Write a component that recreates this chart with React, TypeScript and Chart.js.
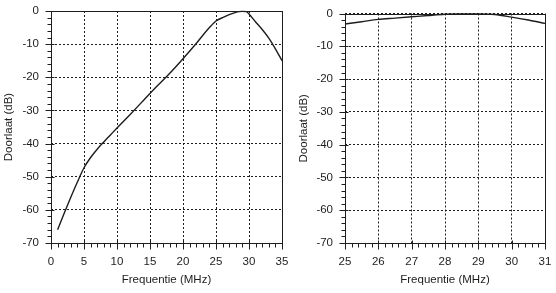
import React, { useEffect, useRef } from "react";
import { Chart, registerables } from "chart.js";

Chart.register(...registerables);

// Wide sweep: 0–35 MHz
const wideFreq = [1, 2, 3, 4, 5, 6, 7, 8, 9, 10, 12, 14, 16, 18, 20, 22, 24, 25, 26, 27, 28, 28.5, 29, 29.6, 30, 31, 32, 33, 34, 35];
const wideGain = [-66, -61, -56.2, -51.6, -47.3, -44.2, -41.7, -39.5, -37.4, -35.3, -31.2, -27.0, -22.8, -18.8, -14.4, -9.8, -5.0, -3.0, -2.0, -1.1, -0.4, -0.2, -0.1, -0.2, -0.9, -3.3, -5.6, -8.2, -11.4, -15.0];

// Narrow sweep: 25–31 MHz
const narrowFreq = [25, 25.5, 26, 26.5, 27, 27.5, 28, 28.5, 29, 29.5, 30, 30.5, 31];
const narrowGain = [-3.2, -2.5, -1.8, -1.4, -1.0, -0.6, -0.25, -0.1, -0.1, -0.3, -1.1, -2.0, -3.0];

// Axis tick labels
const gainTicks = [0, -10, -20, -30, -40, -50, -60, -70];
const wideFreqTicks = [0, 5, 10, 15, 20, 25, 30, 35];
const narrowFreqTicks = [25, 26, 27, 28, 29, 30, 31];

const FONT = "'Liberation Sans', Arial, sans-serif";
const INK = "#1d1d1d";

const isMultiple = (v: number, step: number) =>
  Math.abs(v / step - Math.round(v / step)) < 1e-6;

// Solid frame round the plot plus major/minor tick marks on both axes
const frameTicks = {
  id: "frameTicks",
  afterDraw(chart: any, _args: any, opts: any) {
    const { ctx, chartArea: a, scales } = chart;
    const xs = scales.x;
    const ys = scales.y;
    const L = Math.round(a.left) + 0.5;
    const R = Math.round(a.right) + 0.5;
    const T = Math.round(a.top) + 0.5;
    const B = Math.round(a.bottom) + 0.5;
    ctx.save();
    ctx.setLineDash([]);
    ctx.strokeStyle = INK;
    ctx.lineWidth = 1;
    ctx.strokeRect(L, T, R - L, B - T);
    ctx.beginPath();
    // y ticks
    const yn = Math.round((ys.max - ys.min) / opts.yMinor);
    for (let i = 0; i <= yn; i++) {
      const v = ys.min + i * opts.yMinor;
      const py = Math.round(ys.getPixelForValue(v)) + 0.5;
      const major = isMultiple(v, opts.yMajor);
      ctx.moveTo(L - (major ? 6 : 4), py);
      ctx.lineTo(L + (major ? 3 : 0), py);
    }
    // x ticks
    const xn = Math.round((xs.max - xs.min) / opts.xMinor);
    for (let i = 0; i <= xn; i++) {
      const v = xs.min + i * opts.xMinor;
      const px = Math.round(xs.getPixelForValue(v)) + 0.5;
      const major = isMultiple(v - xs.min, opts.xMajor);
      ctx.moveTo(px, B + (major ? 6 : 4));
      ctx.lineTo(px, B - (major ? 3 : 0));
    }
    ctx.stroke();
    ctx.restore();
  },
};

// Fixed axis sizes so the plot area sits where the layout padding puts it
const fixSize = (size: number, horizontal: boolean) => (s: any) => {
  if (horizontal) s.height = size;
  else s.width = size;
  s.paddingTop = 0;
  s.paddingBottom = 0;
  s.paddingLeft = 0;
  s.paddingRight = 0;
};

type PanelProps = {
  freq: number[];
  gain: number[];
  xTicks: number[];
  xMajor: number;
  xMinor: number;
  left: number;
  width: number;
  axisWidth: number;
  padTop: number;
  padRight: number;
};

function ResponsePanel(p: PanelProps) {
  const ref = useRef<HTMLCanvasElement | null>(null);

  useEffect(() => {
    if (!ref.current) return;
    const tickFont = { family: FONT, size: 11.5 };
    const chart = new Chart(ref.current, {
      type: "line",
      data: {
        datasets: [
          {
            data: p.freq.map((f, i) => ({ x: f, y: p.gain[i] })),
            borderColor: INK,
            borderWidth: 1.4,
            pointRadius: 0,
            cubicInterpolationMode: "monotone",
            fill: false,
            clip: 2,
          } as any,
        ],
      },
      options: {
        animation: false,
        responsive: false,
        devicePixelRatio: 1,
        layout: { padding: { top: p.padTop, right: p.padRight, left: 0, bottom: 0 } },
        plugins: {
          legend: { display: false },
          tooltip: { enabled: false },
          frameTicks: { xMajor: p.xMajor, xMinor: p.xMinor, yMajor: 10, yMinor: 2 },
        } as any,
        scales: {
          x: {
            type: "linear",
            min: p.xTicks[0],
            max: p.xTicks[p.xTicks.length - 1],
            afterBuildTicks: (s: any) => {
              s.ticks = p.xTicks.map((v) => ({ value: v }));
            },
            afterFit: fixSize(50, true),
            grid: { color: INK, lineWidth: 1, drawTicks: false },
            border: { display: false, dash: [2, 2] },
            ticks: { font: tickFont, color: INK, padding: 12, maxRotation: 0, autoSkip: false },
            title: {
              display: true,
              text: "Frequentie (MHz)",
              font: tickFont,
              color: INK,
              padding: { top: 0, bottom: 6 },
            },
          },
          y: {
            type: "linear",
            min: -70,
            max: 0,
            afterBuildTicks: (s: any) => {
              s.ticks = gainTicks.map((v) => ({ value: v }));
            },
            afterFit: fixSize(p.axisWidth, false),
            grid: { color: INK, lineWidth: 1, drawTicks: false },
            border: { display: false, dash: [2, 2] },
            ticks: { font: tickFont, color: INK, padding: 12, autoSkip: false },
            title: {
              display: true,
              text: "Doorlaat (dB)",
              font: tickFont,
              color: INK,
              padding: { top: 2, bottom: 0 },
            },
          },
        },
      } as any,
      plugins: [frameTicks as any],
    });
    return () => chart.destroy();
  }, []);

  return (
    <canvas
      ref={ref}
      width={p.width}
      height={293}
      style={{ position: "absolute", left: p.left, top: 0, width: p.width, height: 293 }}
    />
  );
}

export default function App() {
  return (
    <div
      style={{
        position: "absolute",
        left: 0,
        top: 0,
        width: 556,
        height: 293,
        background: "#ffffff",
        overflow: "hidden",
      }}
    >
      <ResponsePanel
        freq={wideFreq}
        gain={wideGain}
        xTicks={wideFreqTicks}
        xMajor={5}
        xMinor={1}
        left={0}
        width={295}
        axisWidth={51}
        padTop={11}
        padRight={13}
      />
      <ResponsePanel
        freq={narrowFreq}
        gain={narrowGain}
        xTicks={narrowFreqTicks}
        xMajor={1}
        xMinor={0.2}
        left={295}
        width={261}
        axisWidth={50}
        padTop={13.5}
        padRight={11}
      />
    </div>
  );
}
